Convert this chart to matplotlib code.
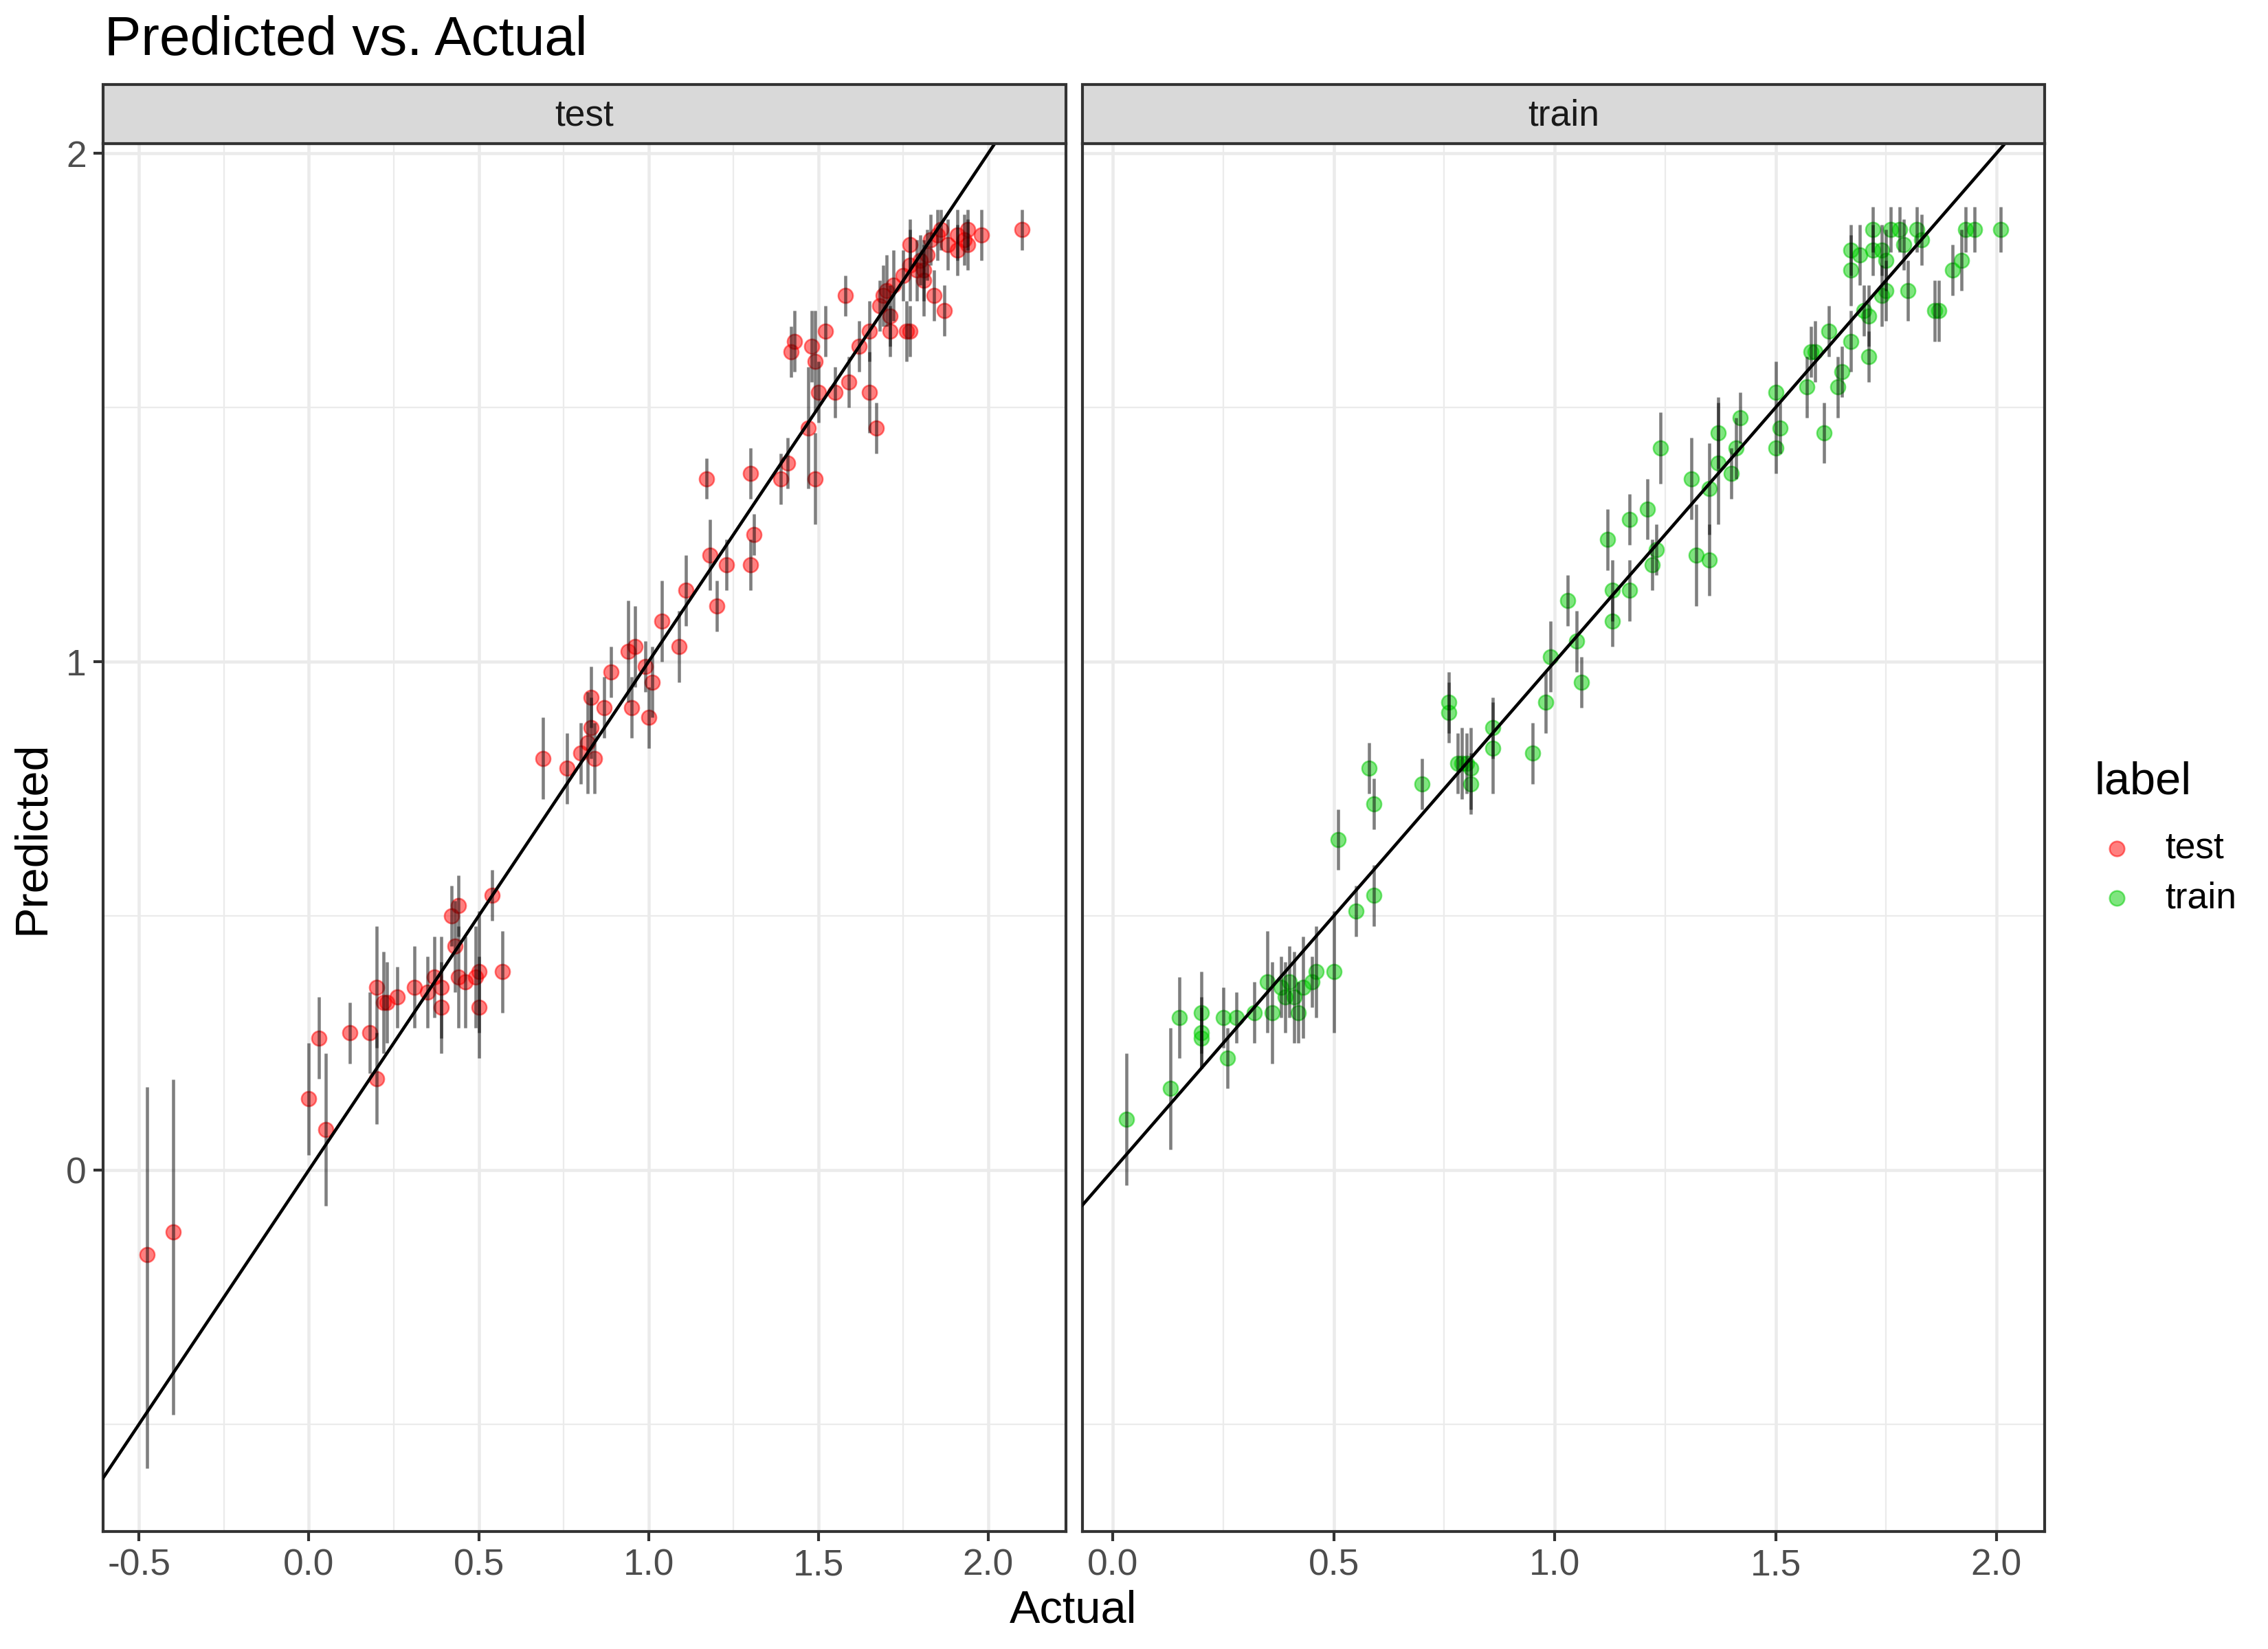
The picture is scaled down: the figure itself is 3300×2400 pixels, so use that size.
import numpy as np
import matplotlib.pyplot as plt
from matplotlib.patches import Rectangle
from matplotlib.lines import Line2D

plt.rcParams['font.family'] = ['Liberation Sans', 'DejaVu Sans']

# --- data ---
act_test = [-0.477, -0.40, 0.00, 0.03, 0.05, 0.12, 0.18, 0.20, 0.20, 0.22, 0.23, 0.26, 0.31, 0.35,
            0.37, 0.39, 0.39, 0.42, 0.43, 0.44, 0.44, 0.46, 0.49, 0.50, 0.50, 0.54, 0.57, 0.69,
            0.76, 0.80, 0.82, 0.83, 0.83, 0.84, 0.87, 0.89, 0.94, 0.96, 0.95, 0.99, 1.00, 1.01,
            1.04, 1.09, 1.11, 1.17, 1.18, 1.20, 1.23, 1.30, 1.30, 1.31, 1.39, 1.41, 1.42, 1.43,
            1.47, 1.48, 1.49, 1.49, 1.50, 1.52, 1.55, 1.58, 1.59, 1.62, 1.65, 1.65, 1.67, 1.68,
            1.69, 1.70, 1.71, 1.71, 1.72, 1.75, 1.76, 1.77, 1.77, 1.77, 1.79, 1.80, 1.81, 1.81,
            1.82, 1.83, 1.84, 1.85, 1.86, 1.87, 1.88, 1.91, 1.91, 1.93, 1.94, 1.94, 1.98, 2.10]
pred_test = [-0.167, -0.122, 0.14, 0.26, 0.08, 0.27, 0.27, 0.18, 0.36, 0.33, 0.33, 0.34, 0.36, 0.35,
             0.38, 0.32, 0.36, 0.50, 0.44, 0.52, 0.38, 0.37, 0.38, 0.39, 0.32, 0.54, 0.39, 0.81,
             0.79, 0.82, 0.84, 0.93, 0.87, 0.81, 0.91, 0.98, 1.02, 1.03, 0.91, 0.99, 0.89, 0.96,
             1.08, 1.03, 1.14, 1.36, 1.21, 1.11, 1.19, 1.37, 1.19, 1.25, 1.36, 1.39, 1.61, 1.63,
             1.46, 1.62, 1.59, 1.36, 1.53, 1.65, 1.53, 1.72, 1.55, 1.62, 1.53, 1.65, 1.46, 1.70,
             1.72, 1.73, 1.65, 1.68, 1.74, 1.76, 1.65, 1.65, 1.82, 1.78, 1.77, 1.79, 1.75, 1.77,
             1.80, 1.83, 1.72, 1.84, 1.85, 1.69, 1.82, 1.81, 1.84, 1.83, 1.85, 1.82, 1.84, 1.85]
dn_test = [0.42, 0.36, 0.11, 0.08, 0.15, 0.06, 0.08, 0.09, 0.12, 0.10, 0.08, 0.06, 0.08, 0.07,
           0.08, 0.09, 0.10, 0.06, 0.09, 0.06, 0.10, 0.09, 0.10, 0.12, 0.10, 0.05, 0.08, 0.08,
           0.07, 0.06, 0.10, 0.06, 0.06, 0.07, 0.06, 0.05, 0.10, 0.08, 0.06, 0.05, 0.06, 0.07,
           0.08, 0.07, 0.07, 0.04, 0.07, 0.05, 0.05, 0.05, 0.05, 0.04, 0.05, 0.05, 0.05, 0.06,
           0.12, 0.07, 0.10, 0.09, 0.06, 0.05, 0.05, 0.04, 0.05, 0.05, 0.08, 0.06, 0.05, 0.05,
           0.06, 0.07, 0.05, 0.06, 0.07, 0.05, 0.06, 0.05, 0.05, 0.07, 0.06, 0.05, 0.07, 0.06,
           0.05, 0.05, 0.05, 0.05, 0.04, 0.05, 0.05, 0.05, 0.05, 0.05, 0.04, 0.05, 0.05, 0.04]
up_test = [0.33, 0.30, 0.11, 0.08, 0.15, 0.06, 0.08, 0.09, 0.12, 0.10, 0.08, 0.06, 0.08, 0.07,
           0.08, 0.09, 0.10, 0.06, 0.09, 0.06, 0.10, 0.09, 0.10, 0.12, 0.10, 0.05, 0.08, 0.08,
           0.07, 0.06, 0.10, 0.06, 0.06, 0.07, 0.06, 0.05, 0.10, 0.08, 0.06, 0.05, 0.06, 0.07,
           0.08, 0.07, 0.07, 0.04, 0.07, 0.05, 0.05, 0.05, 0.05, 0.04, 0.05, 0.05, 0.05, 0.06,
           0.12, 0.07, 0.10, 0.09, 0.06, 0.05, 0.05, 0.04, 0.05, 0.05, 0.08, 0.06, 0.05, 0.05,
           0.06, 0.07, 0.05, 0.06, 0.07, 0.05, 0.06, 0.05, 0.05, 0.07, 0.06, 0.05, 0.07, 0.06,
           0.05, 0.05, 0.05, 0.05, 0.04, 0.05, 0.05, 0.05, 0.05, 0.05, 0.04, 0.05, 0.05, 0.04]

act_train = [0.03, 0.13, 0.15, 0.20, 0.20, 0.20, 0.25, 0.26, 0.28, 0.32, 0.35, 0.36, 0.38, 0.39,
             0.40, 0.41, 0.42, 0.43, 0.45, 0.46, 0.50, 0.51, 0.55, 0.58, 0.59, 0.59, 0.70, 0.76,
             0.76, 0.78, 0.79, 0.80, 0.81, 0.81, 0.86, 0.86, 0.95, 0.98, 0.99, 1.03, 1.05, 1.06,
             1.12, 1.13, 1.13, 1.17, 1.17, 1.21, 1.22, 1.23, 1.24, 1.31, 1.32, 1.35, 1.35, 1.37,
             1.37, 1.40, 1.41, 1.42, 1.50, 1.50, 1.51, 1.57, 1.58, 1.59, 1.61, 1.62, 1.64, 1.65,
             1.67, 1.67, 1.67, 1.69, 1.70, 1.71, 1.71, 1.72, 1.72, 1.74, 1.74, 1.75, 1.76, 1.75,
             1.78, 1.79, 1.80, 1.82, 1.83, 1.86, 1.87, 1.90, 1.92, 1.93, 1.95, 2.01]
pred_train = [0.10, 0.16, 0.30, 0.27, 0.26, 0.31, 0.30, 0.22, 0.30, 0.31, 0.37, 0.31, 0.36, 0.34,
              0.37, 0.34, 0.31, 0.36, 0.37, 0.39, 0.39, 0.65, 0.51, 0.79, 0.72, 0.54, 0.76, 0.92,
              0.90, 0.80, 0.80, 0.80, 0.76, 0.79, 0.87, 0.83, 0.82, 0.92, 1.01, 1.12, 1.04, 0.96,
              1.24, 1.08, 1.14, 1.28, 1.14, 1.30, 1.19, 1.22, 1.42, 1.36, 1.21, 1.34, 1.20, 1.39,
              1.45, 1.37, 1.42, 1.48, 1.42, 1.53, 1.46, 1.54, 1.61, 1.61, 1.45, 1.65, 1.54, 1.57,
              1.81, 1.77, 1.63, 1.80, 1.69, 1.68, 1.60, 1.85, 1.81, 1.72, 1.81, 1.79, 1.85, 1.73,
              1.85, 1.82, 1.73, 1.85, 1.83, 1.69, 1.69, 1.77, 1.79, 1.85, 1.85, 1.85]
err_train = [0.13, 0.12, 0.08, 0.07, 0.06, 0.08, 0.06, 0.06, 0.05, 0.06, 0.10, 0.10, 0.06, 0.07,
             0.07, 0.09, 0.06, 0.10, 0.05, 0.09, 0.12, 0.06, 0.05, 0.05, 0.05, 0.06, 0.05, 0.06,
             0.06, 0.06, 0.07, 0.06, 0.06, 0.08, 0.06, 0.09, 0.06, 0.06, 0.07, 0.05, 0.06, 0.05,
             0.06, 0.05, 0.06, 0.05, 0.06, 0.06, 0.05, 0.05, 0.07, 0.08, 0.10, 0.09, 0.07, 0.12,
             0.07, 0.05, 0.06, 0.05, 0.05, 0.06, 0.05, 0.06, 0.05, 0.06, 0.06, 0.05, 0.06, 0.05,
             0.05, 0.07, 0.06, 0.06, 0.05, 0.06, 0.05, 0.045, 0.05, 0.06, 0.05, 0.06, 0.045, 0.06,
             0.045, 0.05, 0.06, 0.045, 0.05, 0.06, 0.06, 0.05, 0.06, 0.045, 0.045, 0.045]

panels = ["test", "train"]
colors = {"test": "#FF0000", "train": "#00CD00"}

W, H = 3300, 2400
fig = plt.figure(figsize=(11, 8), dpi=300)


def fx(px):
    return px / W


def fy(py):
    return 1 - py / H


top_px, bot_px = 209, 2229
boxes = [(150, 1551), (1575, 2975)]

grid_c = "#EBEBEB"
dark = "#333333"


def draw_panel(ax, x, y, dn, up, col, xticks):
    x = np.array(x); y = np.array(y); dn = np.array(dn); up = np.array(up)
    lo, hi = y - dn, y + up
    ax.scatter(x, y, s=26, facecolor=col, edgecolor=col, alpha=0.5, linewidths=0.6, zorder=3)
    ax.vlines(x, lo, hi, colors="black", alpha=0.5, linewidth=1.1, zorder=4)
    ax.axline((0, 0), slope=1, color="black", linewidth=1.1, zorder=5)
    ax.set_xticks(xticks)
    ax.set_xticklabels([f"{t:.1f}" for t in xticks])
    ax.set_xticks([t + 0.25 for t in xticks[:-1]] + [xticks[0] - 0.25], minor=True)
    # ggplot-like 5% expansion (set after ticks so they don't widen the view)
    xr = x.max() - x.min()
    ax.set_xlim(x.min() - 0.05 * xr, x.max() + 0.05 * xr)
    ax.grid(True, which="major", color=grid_c, linewidth=1.1, zorder=0)
    ax.grid(True, which="minor", color=grid_c, linewidth=0.55, zorder=0)
    ax.set_axisbelow(True)
    for s in ax.spines.values():
        s.set_color(dark)
        s.set_linewidth(1.0)
    ax.tick_params(which="major", length=3.3, width=1.0, color=dark, labelsize=12.8,
                   labelcolor="#4D4D4D", pad=2.5)
    ax.tick_params(which="minor", length=0)
    return lo.min(), hi.max()


ax1 = fig.add_axes([fx(boxes[0][0]), fy(bot_px), fx(boxes[0][1] - boxes[0][0]), (bot_px - top_px) / H])
ax2 = fig.add_axes([fx(boxes[1][0]), fy(bot_px), fx(boxes[1][1] - boxes[1][0]), (bot_px - top_px) / H])

l1, h1 = draw_panel(ax1, act_test, pred_test, dn_test, up_test, colors["test"], [-0.5, 0.0, 0.5, 1.0, 1.5, 2.0])
l2, h2 = draw_panel(ax2, act_train, pred_train, err_train, err_train, colors["train"], [0.0, 0.5, 1.0, 1.5, 2.0])

ylo, yhi = min(l1, l2), max(h1, h2)
yr = yhi - ylo
for ax in (ax1, ax2):
    ax.set_yticks([0, 1, 2])
    ax.set_yticks([-0.5, 0.5, 1.5], minor=True)
    ax.set_ylim(ylo - 0.05 * yr, yhi + 0.05 * yr)
ax1.set_yticklabels(["0", "1", "2"])
ax2.tick_params(axis="y", which="both", left=False, labelleft=False)

# facet strips
for (x0, x1), name in zip(boxes, panels):
    sax = fig.add_axes([fx(x0), fy(top_px), fx(x1 - x0), (top_px - 123) / H])
    sax.set_xlim(0, 1); sax.set_ylim(0, 1)
    sax.add_patch(Rectangle((0, 0), 1, 1, facecolor="#D9D9D9", edgecolor=dark, linewidth=1.0,
                            transform=sax.transAxes, clip_on=False))
    sax.text(0.5, 0.47, name, ha="center", va="center", fontsize=12.8, color="#1A1A1A")
    sax.axis("off")

# titles and labels
fig.text(fx(152), fy(80), "Predicted vs. Actual", fontsize=19.2, ha="left", va="baseline")
fig.text(fx(1562), fy(2362), "Actual", fontsize=16, ha="center", va="baseline")
fig.text(fx(47), fy(1219), "Predicted", fontsize=16, rotation=90, ha="center", va="center")

# legend
fig.text(fx(3047), fy(1155), "label", fontsize=16, ha="left", va="baseline")
for name, py in zip(panels, [1235, 1307]):
    fig.add_artist(Line2D([fx(3080)], [fy(py)], marker="o", markersize=5.2, linestyle="none",
                          markerfacecolor=colors[name], markeredgecolor=colors[name],
                          markeredgewidth=0.6, alpha=0.5, transform=fig.transFigure))
    fig.text(fx(3150), fy(py), name, fontsize=12.8, ha="left", va="center")

fig.savefig("out.png", dpi=300)
